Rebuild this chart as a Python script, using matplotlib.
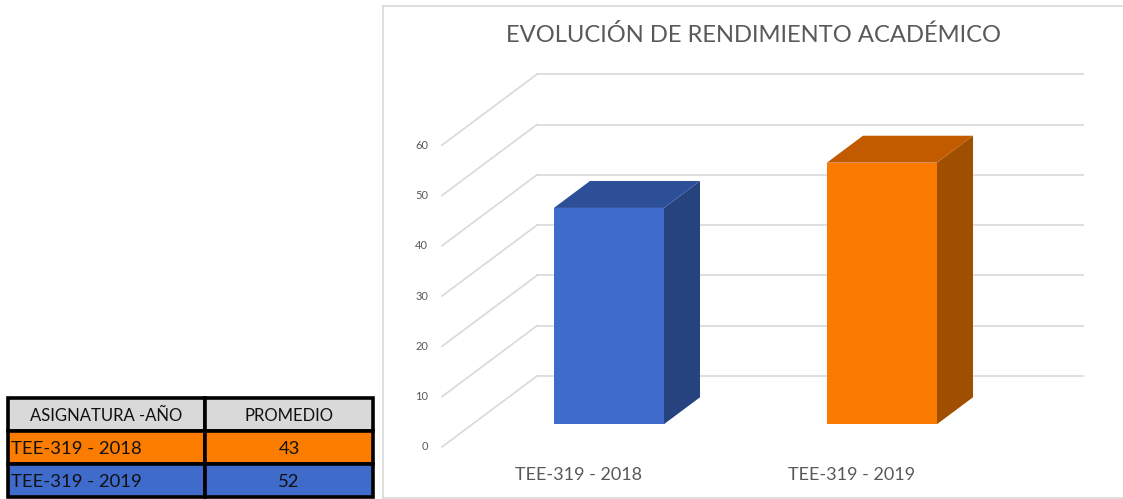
import numpy as np
import matplotlib
matplotlib.use("Agg")
import matplotlib.pyplot as plt
from matplotlib.patches import Polygon, Rectangle

plt.rcParams['font.family'] = ['Lato', 'DejaVu Sans']

# data
asignaturas = ["TEE-319 - 2018", "TEE-319 - 2019"]
promedios = [43, 52]
y_ticks = [0, 10, 20, 30, 40, 50, 60]
titulo = "EVOLUCIÓN DE RENDIMIENTO ACADÉMICO"
cabecera = ["ASIGNATURA -AÑO", "PROMEDIO"]

# colours
bar_front = ["#3f6bcb", "#fb7a00"]
bar_side = ["#26427f", "#a04e00"]
bar_top = ["#2d4f98", "#c25a00"]
fila_color = ["#fc7c00", "#3f6bcb"]
grid_c = "#d9d9d9"
text_c = "#595959"

W, H = 1123, 499
fig = plt.figure(figsize=(W / 100, H / 100), dpi=100)

# oblique 3d look: depth 0 = back wall, depth 1 = front edge of floor
DX, DV = -0.348, -14.1


def proj(x, d, v):
    return x + d * DX, v + d * DV


ax = fig.add_axes([383 / W, 1 / H, (W - 383) / W, 492 / H])
ax.set_xlim((383 - 537) / 273, (W - 537) / 273)
ax.set_ylim((376 - 498) / 5.03, (376 - 6) / 5.03)
ax.set_xticks([])
ax.set_yticks([])
for s in ax.spines.values():
    s.set_color(grid_c)
    s.set_linewidth(1.2)
ax.spines['right'].set_visible(False)

n = len(asignaturas)
for v in y_ticks:
    x0, y0 = proj(0, 0, v)
    x1, y1 = proj(n, 0, v)
    xf, yf = proj(0, 1, v)
    ax.plot([x0, x1], [y0, y1], color=grid_c, lw=1.2, zorder=1)
    ax.plot([x0, xf], [y0, yf], color=grid_c, lw=1.2, zorder=1)
    ax.annotate(str(v), (xf, yf), xytext=(-10, 0), textcoords='offset points',
                ha='right', va='center', fontsize=8, color=text_c)

bw = 0.403
d_b, d_f = 0.30, 0.68
for i, v in enumerate(promedios):
    c = i + 0.5
    l, r = c - bw / 2, c + bw / 2
    front = [proj(l, d_f, 0), proj(r, d_f, 0), proj(r, d_f, v), proj(l, d_f, v)]
    side = [proj(r, d_f, 0), proj(r, d_b, 0), proj(r, d_b, v), proj(r, d_f, v)]
    top = [proj(l, d_f, v), proj(r, d_f, v), proj(r, d_b, v), proj(l, d_b, v)]
    ax.add_patch(Polygon(side, closed=True, facecolor=bar_side[i], edgecolor='none', zorder=3))
    ax.add_patch(Polygon(top, closed=True, facecolor=bar_top[i], edgecolor='none', zorder=3))
    ax.add_patch(Polygon(front, closed=True, facecolor=bar_front[i], edgecolor='none', zorder=4))
    ax.annotate(asignaturas[i], proj(c, 1, 0), xytext=(0, -20), textcoords='offset points',
                ha='center', va='center', fontsize=13, color=text_c)

fig.text(753 / W, 1 - 35 / H, titulo, ha='center', va='center', fontsize=17.1, color=text_c)

# table bottom-left
tax = fig.add_axes([8 / W, 2 / H, 365 / W, 99 / H])
tax.set_xlim(0, 1)
tax.set_ylim(3, 0)
tax.axis('off')
col_x = [0, 0.54, 1]
filas = [cabecera] + [[a, str(p)] for a, p in zip(asignaturas, promedios)]
fondos = ["#d9d9d9"] + fila_color
for r, fila in enumerate(filas):
    fs = 12 if r == 0 else 13.3
    for c, txt in enumerate(fila):
        tax.add_patch(Rectangle((col_x[c], r), col_x[c + 1] - col_x[c], 1,
                                facecolor=fondos[r], edgecolor='black', lw=2.6, clip_on=False))
        if r > 0 and c == 0:
            tax.text(col_x[c] + 0.008, r + 0.55, txt, ha='left', va='center', fontsize=fs, color='#111111')
        else:
            tax.text((col_x[c] + col_x[c + 1]) / 2, r + 0.55, txt, ha='center', va='center',
                     fontsize=fs, color='#111111')

fig.savefig("out.png", dpi=100)
